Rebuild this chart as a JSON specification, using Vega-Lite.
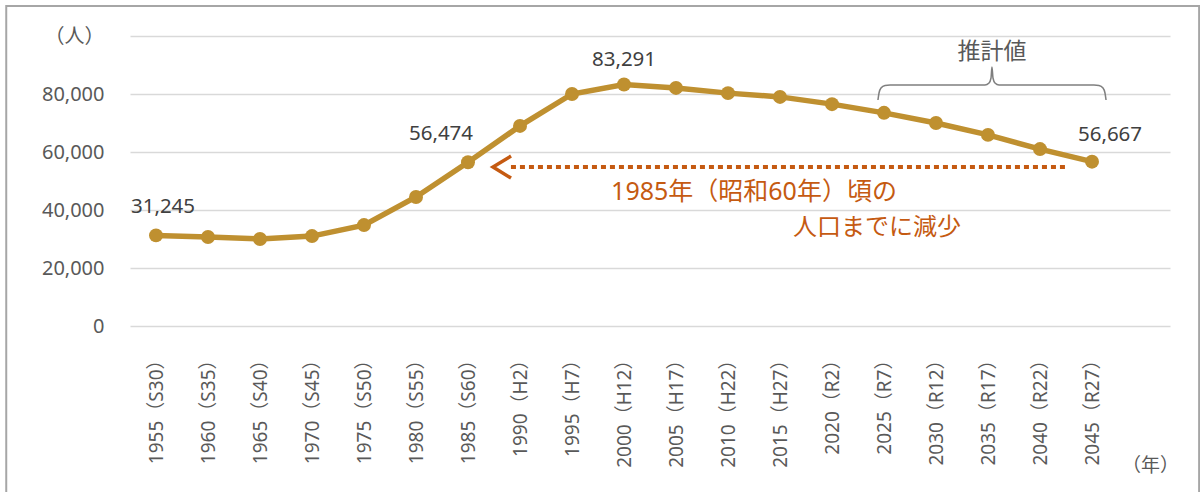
{
  "$schema": "https://vega.github.io/schema/vega-lite/v6.json",
  "width": 1040,
  "height": 290,
  "autosize": {"type": "none"},
  "padding": {"left": 130, "top": 36, "right": 30, "bottom": 166},
  "background": "white",
  "config": {
    "font": "Noto Sans, Noto Sans CJK JP",
    "view": {"stroke": null},
    "axis": {"domain": false, "ticks": false, "labelFont": "Noto Sans, Noto Sans CJK JP", "titleFont": "Noto Sans, Noto Sans CJK JP"}
  },
  "datasets": {
    "pop": [
      {"year": 1955, "pop": 31245},
      {"year": 1960, "pop": 30700},
      {"year": 1965, "pop": 30000},
      {"year": 1970, "pop": 31000},
      {"year": 1975, "pop": 34800},
      {"year": 1980, "pop": 44500},
      {"year": 1985, "pop": 56474},
      {"year": 1990, "pop": 69000},
      {"year": 1995, "pop": 80000},
      {"year": 2000, "pop": 83291},
      {"year": 2005, "pop": 82100},
      {"year": 2010, "pop": 80300},
      {"year": 2015, "pop": 79000},
      {"year": 2020, "pop": 76500},
      {"year": 2025, "pop": 73500},
      {"year": 2030, "pop": 70000},
      {"year": 2035, "pop": 65900},
      {"year": 2040, "pop": 61000},
      {"year": 2045, "pop": 56667}
    ],
    "brace": [
      {"bx": 2024.42, "by": 77931},
      {"bx": 2024.52, "by": 80345},
      {"bx": 2024.71, "by": 82069},
      {"bx": 2025.10, "by": 82931},
      {"bx": 2025.58, "by": 83103},
      {"bx": 2034.71, "by": 83103},
      {"bx": 2035.10, "by": 83793},
      {"bx": 2035.29, "by": 85517},
      {"bx": 2035.38, "by": 89310},
      {"bx": 2035.48, "by": 85517},
      {"bx": 2035.67, "by": 83793},
      {"bx": 2036.06, "by": 83103},
      {"bx": 2045.19, "by": 83103},
      {"bx": 2045.67, "by": 82931},
      {"bx": 2046.06, "by": 82069},
      {"bx": 2046.25, "by": 80345},
      {"bx": 2046.35, "by": 77931}
    ]
  },
  "layer": [
    {
      "data": {"name": "pop"},
      "mark": {"type": "line", "color": "#BF9030", "strokeWidth": 5.5},
      "encoding": {
        "x": {
          "field": "year", "type": "quantitative",
          "scale": {"domain": [1952.5, 2052.5], "nice": false, "zero": false},
          "axis": {
            "values": [1955, 1960, 1965, 1970, 1975, 1980, 1985, 1990, 1995, 2000, 2005, 2010, 2015, 2020, 2025, 2030, 2035, 2040, 2045],
            "labelExpr": "datum.value + (datum.value < 1989 ? '（S' + (datum.value - 1925) + '）' : datum.value < 2019 ? '（H' + (datum.value - 1988) + '）' : '（R' + (datum.value - 2018) + '）')",
            "labelAngle": -90,
            "labelPadding": 24,
            "labelFontSize": 19,
            "labelColor": "#595959",
            "labelFlush": false,
            "labelOverlap": false,
            "labelBound": false,
            "grid": false,
            "title": "（年）",
            "titleAngle": 0,
            "titleX": 1020,
            "titleY": 139,
            "titleAlign": "center",
            "titleBaseline": "middle",
            "titleFontSize": 19,
            "titleFontWeight": "normal",
            "titleColor": "#595959"
          }
        },
        "y": {
          "field": "pop", "type": "quantitative",
          "scale": {"domain": [0, 100000], "nice": false},
          "axis": {
            "values": [0, 20000, 40000, 60000, 80000, 100000],
            "labelExpr": "datum.value == 100000 ? '（人）' : format(datum.value, ',')",
            "labelPadding": 26,
            "labelFontSize": 20,
            "labelColor": "#595959",
            "gridColor": "#d9d9d9",
            "gridWidth": 1.5,
            "title": null
          }
        }
      }
    },
    {
      "data": {"name": "pop"},
      "mark": {"type": "point", "filled": true, "color": "#BF9030", "opacity": 1, "size": 195},
      "encoding": {
        "x": {"field": "year", "type": "quantitative"},
        "y": {"field": "pop", "type": "quantitative"}
      }
    },
    {
      "data": {"name": "pop"},
      "transform": [{"filter": "datum.year == 1955"}],
      "mark": {"type": "text", "fontSize": 20.5, "color": "#404040", "dx": 7, "dy": -28, "baseline": "middle"},
      "encoding": {
        "x": {"field": "year", "type": "quantitative"},
        "y": {"field": "pop", "type": "quantitative"},
        "text": {"field": "pop", "type": "quantitative", "format": ","}
      }
    },
    {
      "data": {"name": "pop"},
      "transform": [{"filter": "datum.year == 1985"}],
      "mark": {"type": "text", "fontSize": 20.5, "color": "#404040", "dx": -27, "dy": -28, "baseline": "middle"},
      "encoding": {
        "x": {"field": "year", "type": "quantitative"},
        "y": {"field": "pop", "type": "quantitative"},
        "text": {"field": "pop", "type": "quantitative", "format": ","}
      }
    },
    {
      "data": {"name": "pop"},
      "transform": [{"filter": "datum.year == 2000"}],
      "mark": {"type": "text", "fontSize": 20.5, "color": "#404040", "dx": 0, "dy": -24, "baseline": "middle"},
      "encoding": {
        "x": {"field": "year", "type": "quantitative"},
        "y": {"field": "pop", "type": "quantitative"},
        "text": {"field": "pop", "type": "quantitative", "format": ","}
      }
    },
    {
      "data": {"name": "pop"},
      "transform": [{"filter": "datum.year == 2045"}],
      "mark": {"type": "text", "fontSize": 20.5, "color": "#404040", "dx": 18, "dy": -27, "baseline": "middle"},
      "encoding": {
        "x": {"field": "year", "type": "quantitative"},
        "y": {"field": "pop", "type": "quantitative"},
        "text": {"field": "pop", "type": "quantitative", "format": ","}
      }
    },
    {
      "data": {"values": [{}]},
      "mark": {"type": "rule", "color": "#C55A11", "strokeWidth": 4, "strokeDash": [5, 4], "strokeCap": "butt"},
      "encoding": {
        "x": {"datum": 1989.13},
        "x2": {"datum": 2042.6},
        "y": {"datum": 54800}
      }
    },
    {
      "data": {"values": [{}]},
      "mark": {"type": "point", "shape": "M0.64,-1L-1,0L0.64,1", "filled": false, "stroke": "#C55A11", "strokeWidth": 3.5, "size": 484, "opacity": 1},
      "encoding": {
        "x": {"datum": 1988.46},
        "y": {"datum": 54800}
      }
    },
    {
      "data": {"values": [{}]},
      "mark": {"type": "text", "text": "1985年（昭和60年）頃の", "fontSize": 25, "color": "#C55A11", "align": "center", "baseline": "middle"},
      "encoding": {
        "x": {"datum": 2012.5},
        "y": {"datum": 46207}
      }
    },
    {
      "data": {"values": [{}]},
      "mark": {"type": "text", "text": "人口までに減少", "fontSize": 24, "color": "#C55A11", "align": "center", "baseline": "middle"},
      "encoding": {
        "x": {"datum": 2024.33},
        "y": {"datum": 33793}
      }
    },
    {
      "data": {"values": [{}]},
      "mark": {"type": "text", "text": "推計値", "fontSize": 23, "color": "#595959", "align": "center", "baseline": "middle"},
      "encoding": {
        "x": {"datum": 2035.38},
        "y": {"datum": 94483}
      }
    },
    {
      "data": {"name": "brace"},
      "mark": {"type": "line", "color": "#7f7f7f", "strokeWidth": 1.5, "interpolate": "monotone"},
      "encoding": {
        "x": {"field": "bx", "type": "quantitative"},
        "y": {"field": "by", "type": "quantitative"}
      }
    },
    {
      "data": {"values": [{}]},
      "mark": {"type": "rect", "filled": false, "stroke": "#a6a6a6", "strokeWidth": 2},
      "encoding": {
        "x": {"datum": 1940.6},
        "x2": {"datum": 2055.3},
        "y": {"datum": 110345},
        "y2": {"datum": -60000}
      }
    }
  ]
}
